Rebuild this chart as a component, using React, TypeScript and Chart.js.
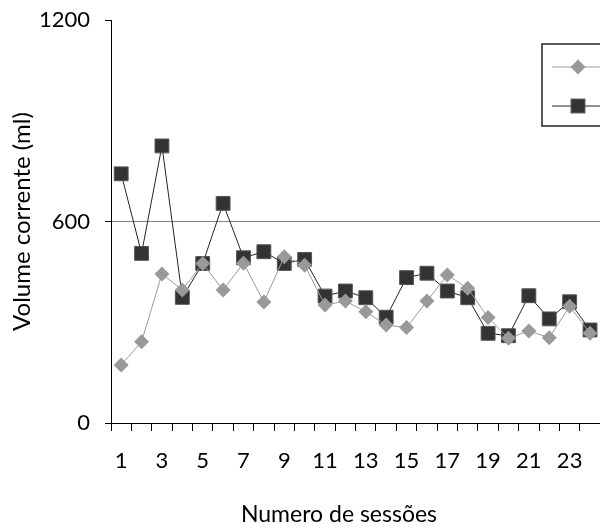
import React, { useEffect, useRef } from 'react';
import { Chart, registerables } from 'chart.js';

Chart.register(...registerables);

const sessions = ['1','2','3','4','5','6','7','8','9','10','11','12','13','14','15','16','17','18','19','20','21','22','23','24'];
const grupoA = [173, 242, 444, 396, 475, 396, 476, 360, 495, 470, 351, 363, 331, 292, 284, 363, 441, 401, 314, 252, 274, 254, 348, 267];
const grupoB = [742, 505, 825, 374, 475, 654, 492, 510, 475, 487, 378, 393, 373, 315, 433, 446, 393, 373, 267, 260, 379, 310, 361, 277];
const yTicks = [0, 600, 1200];
const seriesNames = ['Grupo A', 'Grupo B'];
const xTitle = 'Numero de sessões';
const yTitle = 'Volume corrente (ml)';

const FONT = 'Lato, "Open Sans", sans-serif';

const overlayPlugin = {
  id: 'overlay',
  afterDraw(chart: any) {
    const ctx = chart.ctx;
    ctx.save();
    // x-axis title
    ctx.fillStyle = '#000';
    ctx.font = `23px ${FONT}`;
    ctx.textAlign = 'center';
    ctx.textBaseline = 'middle';
    ctx.fillText(xTitle, 339, 515);
    // legend box
    const bx = 542, by = 44, bw = 120, bh = 82;
    ctx.fillStyle = '#fff';
    ctx.fillRect(bx, by, bw, bh);
    ctx.strokeStyle = '#222';
    ctx.lineWidth = 1.5;
    ctx.strokeRect(bx, by, bw, bh);
    const rows = [67, 106];
    chart.data.datasets.forEach((ds: any, i: number) => {
      const y = rows[i];
      ctx.strokeStyle = ds.borderColor;
      ctx.lineWidth = 1;
      ctx.beginPath();
      ctx.moveTo(552, y);
      ctx.lineTo(604, y);
      ctx.stroke();
      ctx.fillStyle = ds.pointBackgroundColor;
      ctx.strokeStyle = ds.pointBorderColor;
      if (ds.pointStyle === 'rect') {
        const s = ds.pointRadius * Math.SQRT1_2;
        ctx.fillRect(578 - s, y - s, 2 * s, 2 * s);
        ctx.strokeRect(578 - s, y - s, 2 * s, 2 * s);
      } else {
        const r = ds.pointRadius;
        ctx.beginPath();
        ctx.moveTo(578, y - r);
        ctx.lineTo(578 + r, y);
        ctx.lineTo(578, y + r);
        ctx.lineTo(578 - r, y);
        ctx.closePath();
        ctx.fill();
      }
      ctx.fillStyle = '#000';
      ctx.textAlign = 'left';
      ctx.font = `20px ${FONT}`;
      ctx.fillText(seriesNames[i], 612, y);
    });
    ctx.restore();
  },
};

export default function App() {
  const ref = useRef<HTMLCanvasElement | null>(null);
  useEffect(() => {
    if (!ref.current) return;
    const chart = new Chart(ref.current, {
      type: 'line',
      data: {
        labels: sessions,
        datasets: [
          {
            label: seriesNames[0],
            data: grupoA,
            borderColor: '#9a9a9a',
            borderWidth: 1,
            pointStyle: 'rectRot',
            pointRadius: 7.5,
            pointBackgroundColor: '#999999',
            pointBorderColor: '#999999',
            pointBorderWidth: 0,
            tension: 0,
          },
          {
            label: seriesNames[1],
            data: grupoB,
            borderColor: '#222222',
            borderWidth: 1,
            pointStyle: 'rect',
            pointRadius: 9.8,
            pointBackgroundColor: '#333333',
            pointBorderColor: '#555555',
            pointBorderWidth: 1,
            tension: 0,
          },
        ],
      },
      options: {
        animation: false,
        responsive: false,
        maintainAspectRatio: false,
        layout: { padding: { top: 20, right: 0, bottom: 0, left: 0 } },
        plugins: { legend: { display: false }, tooltip: { enabled: false }, title: { display: false } },
        scales: {
          x: {
            type: 'category',
            offset: true,
            grid: { display: true, offset: true, drawOnChartArea: false, drawTicks: true, tickLength: 8, tickColor: '#000', color: '#000' },
            border: { display: true, color: '#000', width: 1 },
            ticks: {
              autoSkip: false,
              maxRotation: 0,
              minRotation: 0,
              padding: 17,
              color: '#000',
              font: { family: FONT, size: 22 },
              callback: (_v: any, i: number) => (i % 2 === 0 ? sessions[i] : ''),
            },
            afterFit: (s: any) => { s.height = 104; },
          },
          y: {
            min: 0,
            max: 1200,
            afterBuildTicks: (s: any) => { s.ticks = yTicks.map((v) => ({ value: v })); },
            grid: {
              color: (c: any) => (c.tick && c.tick.value === 600 ? '#808080' : 'rgba(0,0,0,0)'),
              tickColor: '#000',
              tickLength: 6,
              drawTicks: true,
            },
            border: { display: true, color: '#000', width: 1 },
            ticks: { padding: 15, color: '#000', font: { family: FONT, size: 22 }, callback: (v: any) => String(v) },
            title: { display: true, text: yTitle, color: '#000', font: { family: FONT, size: 24 }, padding: { top: 8, bottom: 0 } },
            afterFit: (s: any) => { s.width = 111; s.paddingTop = 0; s.paddingBottom = 0; },
          },
        },
      },
      plugins: [overlayPlugin],
    });
    return () => chart.destroy();
  }, []);
  return (
    <div style={{ position: 'absolute', left: 0, top: 0, width: 600, height: 527, overflow: 'hidden', background: '#fff' }}>
      <canvas ref={ref} width={611} height={527} style={{ display: 'block', width: 611, height: 527 }} />
    </div>
  );
}
